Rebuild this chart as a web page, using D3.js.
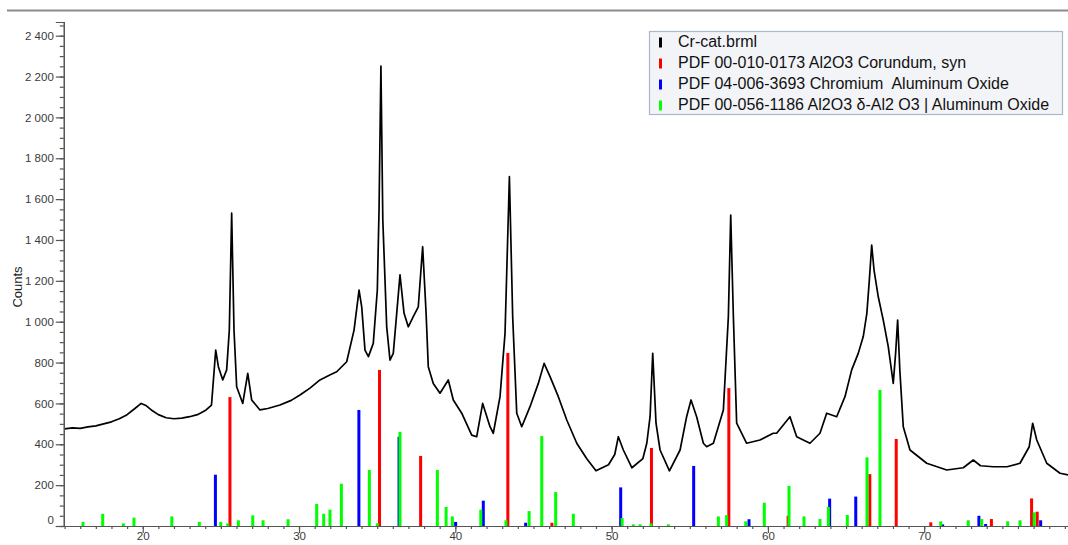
<!DOCTYPE html>
<html><head><meta charset="utf-8">
<script src="https://cdn.jsdelivr.net/npm/d3@7"></script>
<style>
html,body{margin:0;padding:0;background:#fff;}
svg{display:block;font-family:"Liberation Sans",Arial,sans-serif;}
</style></head>
<body><svg id="c" width="1068" height="545"></svg>
<script>
// ---- data (2θ in degrees, intensity in counts) ----
const patternTheta = [15.0,15.5,16.0,16.5,17.0,17.5,18.0,18.5,19.0,19.5,19.9,20.2,20.6,21.0,21.5,22.0,22.5,23.0,23.5,24.0,24.4,24.67,24.84,25.12,25.37,25.54,25.69,25.84,26.01,26.4,26.72,26.97,27.5,28.0,28.78,29.5,30.06,30.7,31.34,32.0,32.41,33.05,33.52,33.84,34.01,34.22,34.44,34.75,35.01,35.12,35.24,35.36,35.61,35.82,36.03,36.25,36.46,36.72,36.99,37.31,37.63,37.91,38.13,38.27,38.59,39.02,39.55,39.87,40.41,41.05,41.37,41.75,42.22,42.43,42.86,43.18,43.46,43.67,43.93,44.25,44.78,45.31,45.68,46.06,46.59,47.13,47.77,48.4,49.0,49.8,50.2,50.43,50.75,51.3,52.0,52.25,52.46,52.63,52.84,53.1,53.7,54.38,54.8,55.08,55.44,55.87,56.08,56.51,57.15,57.47,57.62,57.79,58.0,58.64,59.49,60.34,60.56,61.41,61.84,62.69,63.33,63.76,64.4,64.93,65.36,65.78,66.1,66.33,66.49,66.64,66.79,67.06,67.38,67.7,68.02,68.17,68.3,68.44,68.66,69.09,70.16,71.44,72.5,73.14,73.6,74.42,75.3,76.13,76.72,76.94,77.2,77.84,78.69,79.2];
const patternCounts = [475,480,478,485,490,500,510,525,545,575,600,590,565,545,530,525,528,535,545,565,592,861,780,715,764,959,1531,959,682,600,747,617,568,575,592,615,641,675,715,740,755,804,959,1155,1073,861,829,894,1155,1550,2251,1500,975,812,845,1041,1229,1041,975,1025,1073,1367,1041,780,698,650,715,617,552,445,437,600,486,454,633,943,1710,1024,552,486,584,698,796,731,633,519,405,330,270,300,350,437,372,285,330,405,535,845,503,372,270,372,535,617,535,405,388,405,568,1025,1522,1025,503,405,421,454,454,535,437,405,454,552,535,633,764,845,927,1041,1204,1375,1253,1122,1008,878,698,845,1008,764,486,372,307,274,285,323,295,290,290,307,388,503,421,307,258,250];

const corundumTheta  = [25.58,35.15,37.78,43.36,46.18,52.55,57.50,61.29,66.52,68.21,70.42,74.30,76.87,77.23];
const corundumCounts = [631,764,343,847,16,382,675,50,254,426,18,34,135,70];

const chromiumTheta  = [24.65,33.83,36.40,40.02,41.79,44.50,50.58,55.25,58.79,63.95,65.62,71.18,73.50,73.93,77.45];
const chromiumCounts = [251,568,437,20,124,16,189,294,33,134,144,8,50,10,28];

const deltaTheta  = [16.18,17.44,18.76,19.44,21.86,23.62,24.99,25.44,26.12,27.04,27.70,29.30,31.13,31.58,31.98,32.71,34.50,35.01,36.46,38.85,39.41,39.81,41.63,43.24,44.72,45.53,46.42,47.55,50.67,51.39,51.82,52.52,53.63,56.83,57.36,58.58,59.77,61.35,62.31,63.33,63.87,65.08,66.34,67.17,71.06,72.82,73.68,75.34,76.13,77.04];
const deltaCounts = [20,60,13,41,47,20,20,13,28,52,28,33,108,60,80,207,274,13,461,274,93,47,80,28,73,440,166,60,39,8,8,13,8,47,54,23,114,196,47,34,93,54,336,666,23,28,34,23,28,67];

const legendLabels = ["Cr-cat.brml","PDF 00-010-0173 Al2O3 Corundum, syn","PDF 04-006-3693 Chromium  Aluminum Oxide","PDF 00-056-1186 Al2O3 \u03b4-Al2 O3 | Aluminum Oxide"];
const legendColors = ["#000000","#ff0000","#0000ff","#00ff00"];
const yMajorTicks = d3.range(0, 2401, 200);
const yMinorTicks = d3.range(0, 2451, 50);
const xMajorTicks = [20,30,40,50,60,70];
const xMinorTicks = d3.range(15, 80, 1);
const yTitle = "Counts";

// ---- layout ----
const svg = d3.select("#c");
const x = d3.scaleLinear().domain([14.95, 79.2]).range([63.8, 1068]);
const y = d3.scaleLinear().domain([0, 2467]).range([526, 22]);
const loc = d3.formatLocale({decimal: ".", thousands: " ", grouping: [3], currency: ["", ""]});
const fmt = loc.format(",");

// top frame line
svg.append("line").attr("x1", 7).attr("x2", 1068).attr("y1", 10.5).attr("y2", 10.5)
  .attr("stroke", "#8c8c8c").attr("stroke-width", 1.8);

// pattern line
const pts = patternTheta.map((t, i) => [t, patternCounts[i]]);
svg.append("path").datum(pts)
  .attr("fill", "none").attr("stroke", "#000").attr("stroke-width", 1.7).attr("stroke-linejoin", "round")
  .attr("d", d3.line().x(d => x(d[0])).y(d => y(d[1])));

// reference sticks
function sticks(th, ct, color) {
  svg.append("g").selectAll("rect").data(th.map((t, i) => [t, ct[i]])).join("rect")
    .attr("x", d => x(d[0]) - 1.5).attr("width", 3)
    .attr("y", d => y(d[1])).attr("height", d => y(0) - y(d[1]))
    .attr("fill", color);
}
sticks(corundumTheta, corundumCounts, "#ff0000");
sticks(chromiumTheta, chromiumCounts, "#0000ff");
sticks(deltaTheta, deltaCounts, "#00ff00");

// y axis
const gy = svg.append("g").attr("transform", "translate(63.8,0)");
gy.call(d3.axisLeft(y).tickValues(yMinorTicks).tickSize(4).tickFormat(""));
gy.append("g").call(d3.axisLeft(y).tickValues(yMajorTicks).tickSize(8).tickFormat(fmt).tickPadding(2));
gy.selectAll("path.domain").attr("stroke", "#555").attr("stroke-width", 1.2);
gy.selectAll(".tick line").attr("stroke", "#555").attr("stroke-width", 1.2);
gy.selectAll(".tick text").attr("fill", "#3a3a3a").style("font-size", "11.5px")
  .style("font-family", "'Liberation Sans',Arial,sans-serif")
  .attr("dy", d => d === 0 ? "-0.25em" : "0.32em");

// x axis
const gx = svg.append("g").attr("transform", "translate(0,526)");
gx.call(d3.axisBottom(x).tickValues(xMinorTicks).tickSize(3).tickSizeOuter(0).tickFormat(""));
gx.append("g").call(d3.axisBottom(x).tickValues(xMajorTicks).tickSize(7).tickSizeOuter(0).tickPadding(0));
gx.selectAll("path.domain").attr("stroke", "#555").attr("stroke-width", 1.2);
gx.selectAll(".tick line").attr("stroke", "#555").attr("stroke-width", 1.2);
gx.selectAll(".tick text").attr("fill", "#3a3a3a").style("font-size", "11.5px")
  .style("font-family", "'Liberation Sans',Arial,sans-serif").attr("dy", "0.62em");

// y title
svg.append("text").attr("transform", "translate(22,287) rotate(-90)")
  .attr("text-anchor", "middle").attr("fill", "#222").style("font-size", "13px").text(yTitle);

// legend
const lg = svg.append("g");
lg.append("rect").attr("x", 649.5).attr("y", 31.5).attr("width", 413).attr("height", 83)
  .attr("fill", "#f3f4f8").attr("stroke", "#a9b7cc").attr("stroke-width", 1.2);
legendLabels.forEach((lab, i) => {
  const cy = 41.5 + i * 21;
  lg.append("rect").attr("x", 659).attr("y", cy - 4).attr("width", 3).attr("height", 10).attr("fill", legendColors[i]);
  lg.append("text").attr("x", 678).attr("y", cy).attr("dy", "0.35em")
    .attr("fill", "#111").style("font-size", "16px").style("white-space", "pre").text(lab);
});
</script></body></html>
